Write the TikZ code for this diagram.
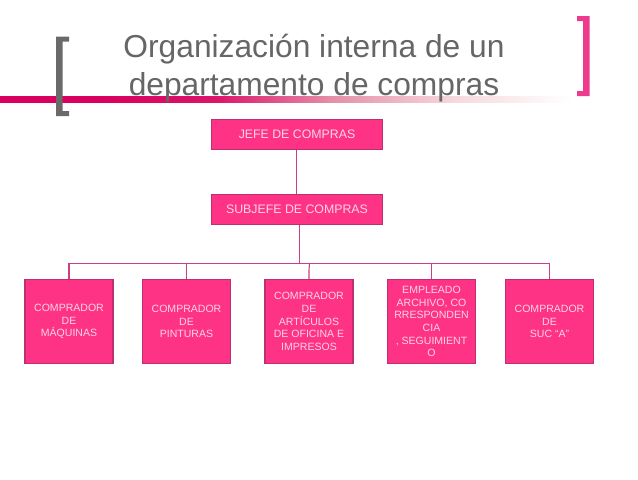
\documentclass[tikz,border=0pt]{standalone}
\usepackage{fontspec}
\setmainfont{Liberation Sans}
\definecolor{boxfill}{HTML}{FF3385}
\definecolor{boxedge}{HTML}{BC3070}
\definecolor{linkc}{HTML}{CC3D85}
\definecolor{boxtext}{HTML}{FDD5E4}
\definecolor{titlec}{HTML}{666666}
\definecolor{brgrey}{HTML}{6A6A6A}
\definecolor{brpink}{HTML}{EE3A8C}
\definecolor{barc}{HTML}{D9005F}
\definecolor{barm}{HTML}{E58FA8}
\definecolor{barl}{HTML}{F6DADF}
\pgfdeclarehorizontalshading{barfade}{100bp}{
  color(0bp)=(barc); color(34bp)=(barc); color(44bp)=(barc!85!barm);
  color(54bp)=(barm); color(65bp)=(barl); color(75bp)=(white); color(100bp)=(white)}
\tikzset{
  orgbase/.style={draw=boxedge,line width=1pt,fill=boxfill,text=boxtext,inner sep=0pt,align=center,anchor=center},
  topbox/.style={orgbase,minimum width=128.2pt,minimum height=22.4pt,font=\fontsize{9.25}{11}\selectfont},
  lowbox/.style={orgbase,minimum width=65.9pt,minimum height=63.1pt,font=\fontsize{7.9}{9.5}\selectfont},
  link/.style={draw=linkc,line width=0.8pt}
}
\begin{document}
\begin{tikzpicture}[x=0.75pt,y=-0.75pt]
\useasboundingbox (0,0) rectangle (638,479);
\fill[white] (0,0) rectangle (638,479);
% gradient bar
\shade[shading=barfade] (0,96.7) rectangle (572,102.8);
% brackets
\fill[brgrey] (56,36.5) -- (69,36.5) -- (69,41.5) -- (62.5,41.5) -- (62.5,111) -- (69,111) -- (69,116) -- (56,116) -- cycle;
\fill[brpink] (577,16) -- (589.5,16) -- (589.5,96) -- (577,96) -- (577,91) -- (583,91) -- (583,21) -- (577,21) -- cycle;
% title
\node[text=titlec,align=center,inner sep=0pt,font=\fontsize{23.8}{28.5}\selectfont] (title) at (314,68) {Organización interna de un\\departamento de compras};
% boxes
\node[topbox] (jefe) at (297,134.5) {JEFE DE COMPRAS};
\node[topbox] (subjefe) at (297,209.5) {SUBJEFE DE COMPRAS};
\node[lowbox] (b1) at (69,321.5) {COMPRADOR\\DE\\MÁQUINAS};
\node[lowbox] (b2) at (186.5,321.5) {COMPRADOR\\DE\\PINTURAS};
\node[lowbox] (b3) at (309,321.5) {COMPRADOR\\DE\\ARTÍCULOS\\DE OFICINA E\\IMPRESOS};
\node[lowbox] (b4) at (431.5,321.5) {EMPLEADO\\ARCHIVO, CO\\RRESPONDEN\\CIA\\, SEGUIMIENT\\O};
\node[lowbox] (b5) at (549.5,321.5) {COMPRADOR\\DE\\SUC “A”};
% connector junctions
\coordinate (busL) at (69,263.5);
\coordinate (busR) at (549.5,263.5);
\coordinate (busS) at (299.5,263.5);
\coordinate (busT) at (309.5,263.5);
\coordinate (kink) at (309,270);
% connectors
\draw[link] (jefe.south -| 296.5,0) -- (subjefe.north -| 296.5,0);
\draw[link] (subjefe.south -| busS) -- (busS);
\draw[link] (b1.north) -- (busL) -- (busR) -- (b5.north);
\draw[link] (b2.north) -- (b2.north |- busL);
\draw[link] (busT) -- (kink) -- (b3.north);
\draw[link] (b4.north) -- (b4.north |- busL);
\end{tikzpicture}
\end{document}
